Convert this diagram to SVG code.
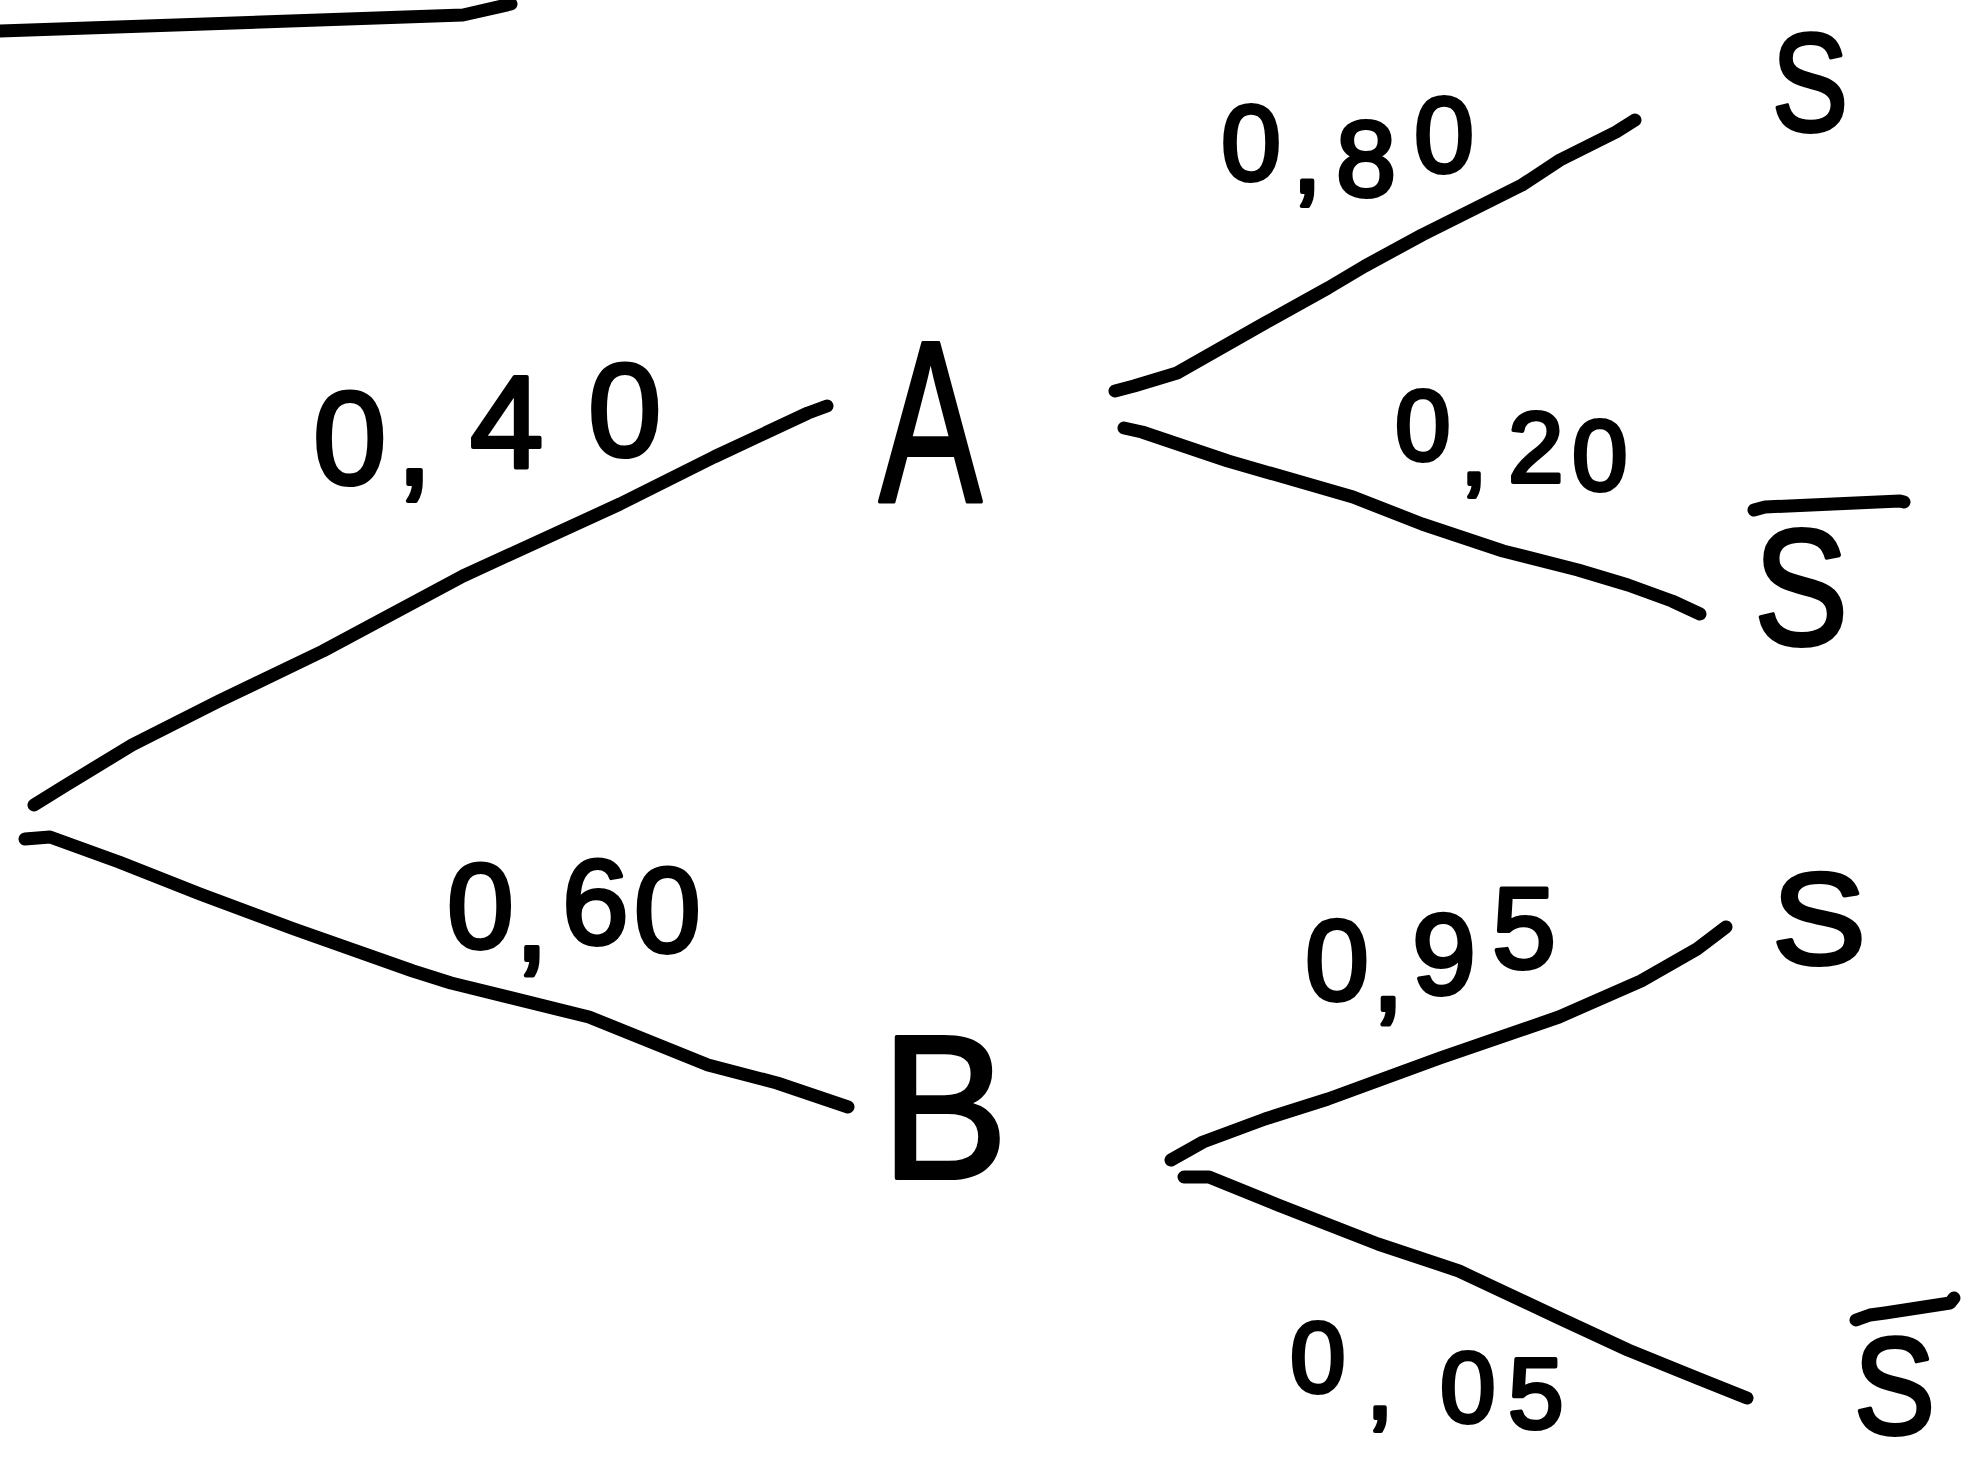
<svg xmlns="http://www.w3.org/2000/svg" width="1964" height="1462" viewBox="0 0 1964 1462">
<style>
.ln{fill:none;stroke:#000;stroke-width:13;stroke-linecap:round;stroke-linejoin:round}
.t{font-family:"Liberation Sans","DejaVu Sans",sans-serif;fill:#000;stroke:#000;stroke-width:4;stroke-linejoin:round}
.lbl{font-family:"Liberation Sans","DejaVu Sans",sans-serif;fill:#000;stroke:#000;stroke-width:4;stroke-linejoin:round}
</style>
<rect width="1964" height="1462" fill="#fff"/>
<g id="stray-line">
<path class="ln" d="M0,31 L463,15 L511,4"/>
</g>
<g id="connectors">
<path class="ln" d="M34,805 L63,787 L132,745 L219,701 L323,651 L463,576 L620,504 L714,457 L808,413 L827,406"/>
<path class="ln" d="M25,839 L50,837 L119,862 L200,894 L294,929 L413,971 L451,983 L589,1017 L708,1065 L777,1083 L848,1107"/>
<path class="ln" d="M1115,391 L1134,386 L1177,373 L1221,348 L1265,323 L1328,288 L1365,266 L1422,235 L1478,207 L1522,185 L1560,160 L1616,132 L1635,120"/>
<path class="ln" d="M1124,428 L1142,432 L1228,461 L1353,497 L1422,524 L1503,551 L1578,570 L1628,585 L1672,601 L1700,614"/>
<path class="ln" d="M1171,1160 L1203,1142 L1265,1119 L1328,1099 L1440,1058 L1559,1017 L1641,981 L1697,949 L1726,927"/>
<path class="ln" d="M1184,1177 L1209,1177 L1278,1205 L1378,1244 L1459,1271 L1559,1318 L1628,1350 L1697,1378 L1747,1398"/>
</g>
<g id="edge-labels">
<text class="lbl" font-size="132"><tspan x="313" y="484">0</tspan><tspan x="396" y="484">,</tspan><tspan x="470" y="468">4</tspan><tspan x="588" y="456">0</tspan></text>
<text class="lbl" font-size="120"><tspan x="447" y="948">0</tspan><tspan x="515" y="960">,</tspan><tspan x="562" y="944">6</tspan><tspan x="634" y="952">0</tspan></text>
<text class="lbl" font-size="108"><tspan x="1221" y="180">0</tspan><tspan x="1292" y="192">,</tspan><tspan x="1336" y="196">8</tspan><tspan x="1414" y="172">0</tspan></text>
<text class="lbl" font-size="100"><tspan x="1395" y="460">0</tspan><tspan x="1460" y="484">,</tspan><tspan x="1508" y="482">2</tspan><tspan x="1572" y="490">0</tspan></text>
<text class="lbl" font-size="115"><tspan x="1305" y="1000">0</tspan><tspan x="1372" y="1010">,</tspan><tspan x="1412" y="994">9</tspan><tspan x="1492" y="968">5</tspan></text>
<text class="lbl" font-size="100"><tspan x="1290" y="1392">0</tspan><tspan x="1366" y="1418">,</tspan><tspan x="1440" y="1422">0</tspan><tspan x="1508" y="1428">5</tspan></text>
</g>
<g id="node-A">
<text class="t" x="879" y="501" font-size="230" textLength="103" lengthAdjust="spacingAndGlyphs">A</text>
</g>
<g id="node-B">
<text class="t" x="881" y="1178" font-size="205" textLength="127" lengthAdjust="spacingAndGlyphs">B</text>
</g>
<g id="node-S-A">
<text class="t" x="1772" y="131" font-size="140" textLength="76" lengthAdjust="spacingAndGlyphs">S</text>
</g>
<g id="node-Sbar-A">
<path class="ln" d="M1754,510 L1765,507 L1900,501 L1904,502"/>
<text class="t" x="1754" y="644" font-size="165" textLength="94" lengthAdjust="spacingAndGlyphs">S</text>
</g>
<g id="node-S-B">
<text class="t" x="1772" y="964" font-size="130" textLength="94" lengthAdjust="spacingAndGlyphs">S</text>
</g>
<g id="node-Sbar-B">
<path class="ln" d="M1856,1320 L1870,1315 L1885,1313 L1950,1303 L1954,1298"/>
<text class="t" x="1854" y="1434" font-size="138" textLength="81" lengthAdjust="spacingAndGlyphs">S</text>
</g>
</svg>
